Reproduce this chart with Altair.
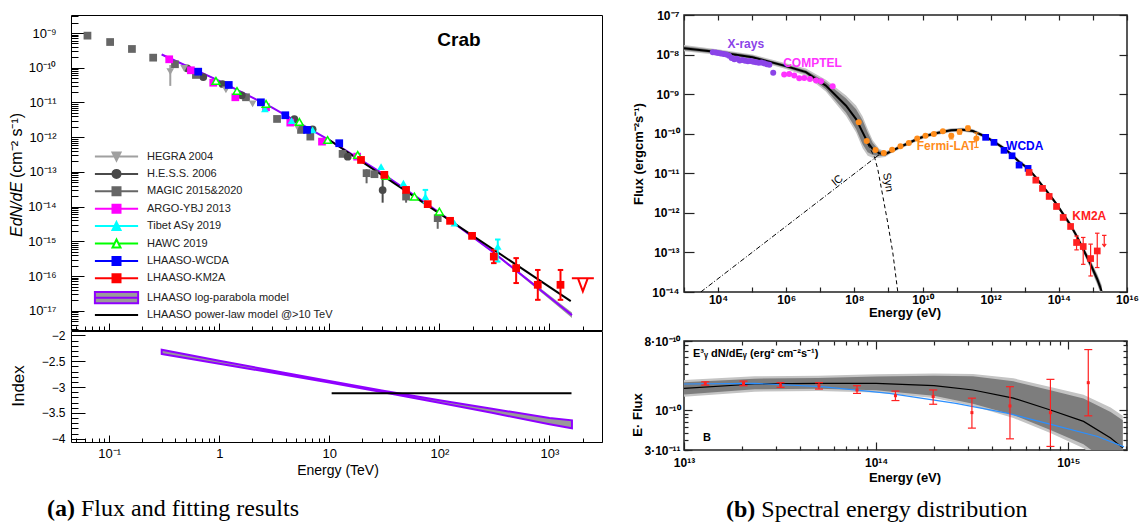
import altair as alt
import numpy as np
import pandas as pd

FA = "Liberation Sans"
FS = "Liberation Serif"
PURPLE = "#8f00ff"

# ======================= (a) Crab flux: E [TeV], E dN/dE [cm^-2 s^-1] =======================
MAGIC_E = [0.0635, 0.102, 0.161, 0.251, 0.396, 0.614, 1.75, 3.35, 5.53, 6.72, 13.2, 21.8, 25.7, 49.8, 96.5]
MAGIC_F = [8.4e-10, 5.5e-10, 3.47e-10, 1.95e-10, 1.26e-10, 6.2e-11, 1.41e-11, 3.35e-12, 1.62e-12, 1.04e-12,
           3.3e-13, 9.2e-14, 8.6e-14, 1.95e-14, 4.66e-15]
MAGIC_EB_E = [21.8, 49.8, 96.5]
MAGIC_EB_LO = [4.7e-14, 1.3e-14, 2.3e-15]
MAGIC_EB_HI = [1.2e-13, 2.5e-14, 8.0e-15]

HESS_E = [0.512, 0.716, 1.07, 1.6, 4.81, 7.05, 14.7, 30.5]
HESS_F = [9.6e-11, 5.4e-11, 3.4e-11, 1.6e-11, 3.29e-12, 1.69e-12, 2.75e-13, 3.0e-14]
HESS_EB_E = [30.5]
HESS_EB_LO = [1.3e-14]
HESS_EB_HI = [6.6e-14]

HEGRA_E = [0.359, 0.48, 1.15, 2.01, 5.09]
HEGRA_F = [7.7e-11, 9.6e-11, 2.29e-11, 9.1e-12, 2.0e-12]
HEGRA_EB_E = [0.359]
HEGRA_EB_LO = [3.0e-11]
HEGRA_EB_HI = [1.2e-10]

ARGO_E = [0.351, 0.553, 0.882, 1.4, 2.66, 4.42, 8.58, 17.9]
ARGO_F = [1.75e-10, 8.45e-11, 3.7e-11, 1.41e-11, 7.3e-12, 2.63e-12, 7.45e-13, 2.75e-13]

TIBET_E = [2.6, 4.54, 7.05, 29.5, 47.1, 74.6, 137, 339]
TIBET_F = [6.5e-12, 3.0e-12, 1.62e-12, 1.42e-13, 4.73e-14, 1.95e-14, 3.34e-15, 7.1e-16]
TIBET_EB_E = [74.6, 339]
TIBET_EB_LO = [1.3e-14, 2.62e-16]
TIBET_EB_HI = [3.03e-14, 1.13e-15]

HAWC_E = [0.933, 1.45, 2.66, 5.34, 9.65, 18.1, 32.8, 59.3, 100]
HAWC_F = [4.16e-11, 2.14e-11, 9.1e-12, 2.75e-12, 8.3e-13, 3.08e-13, 7.7e-14, 1.95e-14, 7.2e-15]

WCDA_E = [0.644, 1.22, 2.39, 3.98, 6.27, 12.3]
WCDA_F = [7.7e-11, 3.19e-11, 1.01e-11, 4.28e-12, 1.62e-12, 6.7e-13]

KM2A_E = [19.4, 31.6, 49.8, 78.3, 125, 198, 312, 498, 783, 1259]
KM2A_F = [2.21e-13, 8.2e-14, 3.03e-14, 1.18e-14, 3.9e-15, 1.44e-15, 3.65e-16, 1.69e-16, 5.6e-17, 5.6e-17]
KM2A_EB_E = [312, 498, 783, 1259]
KM2A_EB_LO = [2.36e-16, 6.3e-17, 2.07e-17, 2.07e-17]
KM2A_EB_HI = [5.7e-16, 3.29e-16, 1.5e-16, 1.5e-16]
KM2A_UL_E = [2010]
KM2A_UL_F = [8.7e-17]

LP_E = [0.3, 1, 3, 10, 30, 100, 300, 1000, 1600]
LP_F = [2.4e-10, 4.2e-11, 7.2e-12, 8.2e-13, 9.2e-14, 6.8e-15, 5.2e-16, 2.45e-17, 7.5e-18]
LP_LO = [2.3e-10, 4.05e-11, 7.0e-12, 8.05e-13, 9.0e-14, 6.55e-15, 4.9e-16, 2.15e-17, 6.2e-18]
LP_HI = [2.5e-10, 4.35e-11, 7.4e-12, 8.35e-13, 9.4e-14, 7.05e-15, 5.5e-16, 2.8e-17, 9.0e-18]
PL_E = [10, 1560]
PL_F = [8.3e-13, 1.9e-17]

IDX_E = [0.3, 1, 3, 10, 30, 100, 300, 1000, 1600]
IDX_HI = [-2.28, -2.49, -2.68, -2.885, -3.065, -3.255, -3.42, -3.60, -3.645]
IDX_LO = [-2.36, -2.55, -2.72, -2.915, -3.095, -3.305, -3.50, -3.72, -3.80]
PLI_E = [10.5, 1585]
PLI_V = [-3.12, -3.12]

LEG_NAMES = ["HEGRA 2004", "H.E.S.S. 2006", "MAGIC 2015&2020", "ARGO-YBJ 2013", "Tibet ASγ 2019",
             "HAWC 2019", "LHAASO-WCDA", "LHAASO-KM2A", "LHAASO log-parabola model",
             "LHAASO power-law model @>10 TeV"]

# ======================= (b) SED: E [eV], flux [erg cm^-2 s^-1] =======================
SED_E = [1e3, 1.07e4, 1.02e5, 9.8e5, 3.8e6, 1.45e7, 5.7e7, 1.12e8, 1.75e8, 2.46e8, 3.45e8, 5.4e8, 8.0e8,
         1.2e9, 2.25e9, 3.96e9, 6.97e9, 1.22e10, 2.15e10, 3.95e10, 6.97e10, 1.53e11, 3.0e11, 7.1e11,
         1.25e12, 2.46e12, 4.24e12, 6.8e12, 1.25e13, 2.11e13, 3.31e13, 5.19e13, 8.55e13, 1.34e14,
         2.21e14, 3.31e14, 5.19e14, 8.55e14, 1.34e15, 1.8e15]
SED_F = [1.45e-8, 1.15e-8, 8.6e-9, 5.1e-9, 3.6e-9, 1.64e-9, 5.1e-10, 2.35e-10, 1.08e-10, 6.05e-11, 4.1e-11,
         3.2e-11, 3.05e-11, 3.6e-11, 4.69e-11, 5.82e-11, 7.35e-11, 8.75e-11, 1.0e-10, 1.12e-10, 1.22e-10,
         1.26e-10, 1.17e-10, 8.4e-11, 6.27e-11, 4.27e-11, 2.89e-11, 1.95e-11, 1.33e-11, 7.87e-12, 4.83e-12,
         2.97e-12, 1.66e-12, 9.27e-13, 4.89e-13, 2.62e-13, 1.2e-13, 5.0e-14, 2.1e-14, 1.06e-14]
SED_W1 = [0.05, 0.04, 0.04, 0.04, 0.05, 0.09, 0.18, 0.25, 0.30, 0.25, 0.15, 0.07, 0.04, 0.03, 0.03, 0.03,
          0.03, 0.03, 0.03, 0.03, 0.03, 0.03, 0.03, 0.03, 0.03, 0.03, 0.03, 0.03, 0.03, 0.03, 0.03, 0.03,
          0.035, 0.04, 0.045, 0.05, 0.06, 0.08, 0.10, 0.12]
SED_W2 = [0.08, 0.07, 0.07, 0.07, 0.09, 0.15, 0.26, 0.34, 0.40, 0.34, 0.22, 0.11, 0.07, 0.05, 0.05, 0.05,
          0.05, 0.05, 0.05, 0.05, 0.05, 0.05, 0.05, 0.05, 0.05, 0.05, 0.05, 0.05, 0.05, 0.05, 0.05, 0.05,
          0.055, 0.06, 0.07, 0.08, 0.09, 0.11, 0.14, 0.16]
IC_E = [3.1e3, 6.0e8]
IC_F = [1.0e-14, 3.2e-11]
SYN_E = [2.46e8, 3.87e8, 4.85e8, 6.8e8, 9.5e8, 1.34e9, 1.88e9]
SYN_F = [5.5e-11, 2.6e-11, 1.28e-11, 2.7e-12, 5.7e-13, 9.9e-14, 1.0e-14]

XR_E = [7.0e3, 8.5e3, 1.0e4, 1.2e4, 1.45e4, 1.75e4, 2.1e4, 2.5e4, 3.0e4, 3.6e4, 4.3e4, 5.2e4, 6.2e4, 7.5e4,
        9.0e4, 1.08e5, 1.3e5, 1.56e5, 1.87e5, 2.25e5, 2.7e5, 3.2e5, 4.15e5]
XR_F = [1.15e-8, 1.13e-8, 1.10e-8, 1.06e-8, 1.03e-8, 1.0e-8, 9.3e-9, 8.2e-9, 7.6e-9, 7.8e-9, 7.05e-9, 7.3e-9,
        7.0e-9, 6.8e-9, 6.9e-9, 6.6e-9, 6.4e-9, 6.2e-9, 6.3e-9, 6.0e-9, 5.7e-9, 5.5e-9, 3.45e-9]
COMPTEL_E = [8.7e5, 1.22e6, 1.72e6, 2.41e6, 3.38e6, 4.97e6, 7.5e6, 1.05e7, 2.3e7]
COMPTEL_F = [3.12e-9, 3.25e-9, 2.94e-9, 2.53e-9, 2.57e-9, 2.43e-9, 2.2e-9, 2.12e-9, 1.58e-9]
FERMI_E = [1.34e8, 2.3e8, 4.15e8, 7.3e8, 1.28e9, 2.25e9, 3.96e9, 6.97e9, 1.22e10, 2.15e10, 3.95e10,
           6.97e10, 1.22e11, 2.15e11, 3.8e11]
FERMI_F = [1.95e-10, 6.5e-11, 3.86e-11, 3.24e-11, 3.94e-11, 4.8e-11, 5.8e-11, 7.6e-11, 8.9e-11, 9.8e-11,
           1.15e-10, 8.9e-11, 1.12e-10, 1.37e-10, 7.6e-11]
FERMI_EB_E = [6.97e10, 1.22e11, 2.15e11, 3.8e11]
FERMI_EB_LO = [7.4e-11, 9.8e-11, 1.2e-10, 4.5e-11]
FERMI_EB_HI = [9.8e-11, 1.27e-10, 1.55e-10, 1.05e-10]
WCDA_S_E = [7.1e11, 1.25e12, 2.46e12, 4.24e12, 6.8e12, 1.25e13]
WCDA_S_F = [8.1e-11, 6.05e-11, 3.8e-11, 2.77e-11, 1.61e-11, 1.33e-11]
KM2A_S_E = [1.34e13, 2.11e13, 3.31e13, 5.2e13, 8.55e13, 1.34e14, 2.21e14, 3.31e14, 5.19e14, 8.55e14, 1.34e15]
KM2A_S_F = [1.05e-11, 6.7e-12, 4.15e-12, 2.6e-12, 1.45e-12, 7.65e-13, 4.53e-13, 1.78e-13, 1.41e-13, 7.0e-14,
            1.09e-13]
KM2A_S_LO = [1.0e-11, 6.4e-12, 3.95e-12, 2.47e-12, 1.37e-12, 7.0e-13, 4.1e-13, 1.16e-13, 5.0e-14, 2.54e-14,
             4.15e-14]
KM2A_S_HI = [1.1e-11, 7.0e-12, 4.35e-12, 2.73e-12, 1.53e-12, 8.3e-13, 5.0e-13, 2.6e-13, 2.39e-13, 1.62e-13,
             3.06e-13]
KM2A_S_UL_E = [2.15e15]
KM2A_S_UL_F = [1.95e-13]

# (b) lower panel: E^3 dN/dE
BB_E = [1e13, 2.33e13, 5e13, 1e14, 2e14, 3.19e14, 5.18e14, 8.07e14, 1.2e15, 1.66e15, 1.92e15]
BB_F = [1.92e-10, 2.19e-10, 2.23e-10, 2.23e-10, 2.08e-10, 1.83e-10, 1.43e-10, 1.0e-10, 7.1e-11, 4.3e-11, 3.2e-11]
BB_W1 = [0.08, 0.07, 0.07, 0.09, 0.13, 0.18, 0.22, 0.26, 0.30, 0.34, 0.36]
BB_W2 = [0.11, 0.10, 0.10, 0.12, 0.16, 0.21, 0.26, 0.30, 0.35, 0.40, 0.42]
BL_E = [1e13, 2.33e13, 5.2e13, 1.17e14, 2.6e14, 4.8e14, 8.7e14, 1.42e15, 1.95e15]
BL_F = [2.19e-10, 2.23e-10, 2.02e-10, 1.65e-10, 1.22e-10, 9.1e-11, 6.2e-11, 4.5e-11, 3.3e-11]
BR_E = [1.29e13, 2.04e13, 3.18e13, 5.04e13, 7.95e13, 1.26e14, 1.98e14, 3.15e14, 4.97e14, 8.07e14, 1.27e15]
BR_F = [2.23e-10, 2.23e-10, 2.12e-10, 2.08e-10, 1.83e-10, 1.54e-10, 1.5e-10, 9.25e-11, 1.13e-10, 9.25e-11, 2.28e-10]
BR_LO = [2.12e-10, 2.08e-10, 1.98e-10, 1.88e-10, 1.65e-10, 1.33e-10, 1.19e-10, 5.8e-11, 4.2e-11, 3.34e-11, 8.4e-11]
BR_HI = [2.34e-10, 2.39e-10, 2.28e-10, 2.28e-10, 2.08e-10, 1.77e-10, 1.83e-10, 1.43e-10, 2.02e-10, 2.52e-10, 6.18e-10]

# ======================= helpers =======================
ONE = pd.DataFrame({"a": [0]})
MIN = [2, 3, 4, 5, 6, 7, 8, 9]


def lg(lo, hi, mults):
    out = []
    for d in range(int(np.floor(np.log10(lo))) - 1, int(np.ceil(np.log10(hi))) + 1):
        for m in mults:
            v = float(f"{m * 10.0 ** d:.6g}")
            if lo * 0.9999 <= v <= hi * 1.0001:
                out.append(v)
    return out


SUPA = "['⁰','¹','²','³','⁴','⁵','⁶','⁷','⁸','⁹']"


def supx(e):
    a = f"abs({e})"
    return f"(({e}) < 0 ? '⁻' : '') + ({a} >= 10 ? {SUPA}[floor({a} / 10)] : '') + {SUPA}[{a} % 10]"


P = "round(log(datum.value) / LN10)"
E_POW = f"'10' + {supx(P)}"
E_AX = f"{P} == 0 ? '1' : ({P} == 1 ? '10' : '10' + {supx(P)})"
E_EVEN = f"{P} % 2 == 0 ? '10' + {supx(P)} : ''"
FLR = "floor(log(datum.value) / LN10 + 0.000001)"
MNT = f"round(datum.value / pow(10, {FLR}))"
E_MAN = f"({MNT} == 1 ? '' : {MNT} + '·') + '10' + {supx(FLR)}"
E_NUM = "format(datum.value, '~g')"


def axis(orient, values, tick, expr=None, fs=12, fw="normal", pad=3, color="black", tw=1):
    kw = dict(orient=orient, values=values, tickSize=tick, offset=-tick, domain=False, grid=False,
              ticks=True, tickColor=color, tickWidth=tw, title=None, labelOverlap=False, labelFlush=False)
    if expr is None:
        kw["labels"] = False
    else:
        kw.update(labels=True, labelExpr=expr, labelFont=FA, labelFontSize=fs, labelFontWeight=fw,
                  labelPadding=pad, labelColor="black")
    return alt.Axis(**kw)


def axes(xs, ys, xm, ym, specs):
    d = pd.DataFrame({"x": [xm], "y": [ym]})
    out = []
    for ch, ax in specs:
        out.append(alt.Chart(d).mark_point(opacity=0).encode(
            x=alt.X("x:Q", scale=xs, axis=ax if ch == "x" else None),
            y=alt.Y("y:Q", scale=ys, axis=ax if ch == "y" else None)))
    return out


def enc(ch, xs, ys, yf="F"):
    return ch.encode(x=alt.X("E:Q", scale=xs, axis=None), y=alt.Y(f"{yf}:Q", scale=ys, axis=None))


def pts(E, F, xs, ys, shape, color, size=60, fill=None, sw=1.5):
    d = pd.DataFrame({"E": E, "F": F})
    if fill is None:
        m = alt.Chart(d).mark_point(shape=shape, filled=True, color=color, size=size, opacity=1, clip=True)
    else:
        m = alt.Chart(d).mark_point(shape=shape, filled=True, fill=fill, stroke=color, strokeWidth=sw,
                                    size=size, opacity=1, clip=True)
    return enc(m, xs, ys)


def sym(E, F, xs, ys, shape, color, size, sw=1.5):
    d = pd.DataFrame({"E": E, "F": F})
    return enc(alt.Chart(d).mark_point(shape=shape, filled=False, color=color, size=size, strokeWidth=sw,
                                       opacity=1, clip=True), xs, ys)


def errs(E, LO, HI, xs, ys, color, sw=1.5, cap=0):
    d = pd.DataFrame({"E": E, "lo": LO, "hi": HI})
    out = [alt.Chart(d).mark_rule(color=color, strokeWidth=sw, clip=True).encode(
        x=alt.X("E:Q", scale=xs, axis=None), y=alt.Y("lo:Q", scale=ys, axis=None), y2="hi:Q")]
    if cap:
        out.append(sym(E, LO, xs, ys, "stroke", color, cap, sw))
        out.append(sym(E, HI, xs, ys, "stroke", color, cap, sw))
    return out


def line(E, F, xs, ys, color, sw=1, dash=None):
    d = pd.DataFrame({"E": E, "F": F})
    kw = dict(color=color, strokeWidth=sw, clip=True)
    if dash:
        kw["strokeDash"] = dash
    return enc(alt.Chart(d).mark_line(**kw), xs, ys)


def band(E, LO, HI, xs, ys, color, stroke=None, sw=0):
    d = pd.DataFrame({"E": E, "lo": LO, "hi": HI})
    kw = dict(color=color, opacity=1, clip=True)
    if stroke:
        kw.update(stroke=stroke, strokeWidth=sw)
    return alt.Chart(d).mark_area(**kw).encode(
        x=alt.X("E:Q", scale=xs, axis=None), y=alt.Y("lo:Q", scale=ys, axis=None), y2="hi:Q")


def txt(text, x, y, size, font=FA, weight="normal", style="normal", angle=0, align="center",
        baseline="middle", color="black", opacity=1):
    kw = dict(text=text, fontSize=size, font=font, fontWeight=weight, fontStyle=style, align=align,
              baseline=baseline, color=color, opacity=opacity)
    if angle:
        kw["angle"] = angle
    return alt.Chart(ONE).mark_text(**kw).encode(x=alt.value(x), y=alt.value(y))


def dtxt(text, E, F, xs, ys, size, color, weight="bold", angle=0, align="center"):
    d = pd.DataFrame({"E": [E], "F": [F]})
    kw = dict(text=text, fontSize=size, font=FA, fontWeight=weight, color=color, align=align,
              baseline="middle")
    if angle:
        kw["angle"] = angle
    return enc(alt.Chart(d).mark_text(**kw), xs, ys)


# ======================= panel (a) top =======================
xa = alt.Scale(type="log", domain=[0.045, 3000], nice=False)
ya = alt.Scale(type="log", domain=[2.8e-18, 3.3e-9], nice=False)
yi = alt.Scale(type="linear", domain=[-4.064, -1.916], nice=False, zero=False)

XMAJ_A = [0.1, 1, 10, 100, 1000]
XMIN_A = lg(0.045, 3000, MIN)
YMAJ_A = lg(2.8e-18, 3.3e-9, [1])
YMIN_A = lg(2.8e-18, 3.3e-9, MIN)

L = 5.4
SQ = "M-1,-1H1V1H-1Z"
CIRC = "M1,0A1,1 0 1,1 -1,0A1,1 0 1,1 1,0Z"
TUP = "M0,-1L1,1H-1Z"
TDN = "M-1,-1H1L0,1Z"


def seg(a):
    return f"M-{L},0H-{a}M{a},0H{L}"


LEG_PATH = [seg(0.5) + TDN, seg(1) + CIRC, seg(1) + SQ, seg(1) + SQ, seg(0.5) + TUP, seg(0.5) + TUP,
            seg(1) + SQ, seg(1) + SQ, f"M-{L},-1.4H{L}V1.4H-{L}ZM-{L},0H{L}", f"M-{L},0H{L}"]
LEG_FILL = ["#a0a0a0", "#4a4a4a", "#666666", "#ff00ff", "#00ffff", "#ffffff", "#0000ff", "#ff0000",
            "#9a9a9a", "#000000"]
LEG_STROKE = ["#a0a0a0", "#4a4a4a", "#666666", "#ff00ff", "#00ffff", "#00ff00", "#0000ff", "#ff0000",
              PURPLE, "#000000"]

LEG = alt.Legend(orient="none", legendX=40, legendY=136, direction="vertical", title=None, padding=0,
                 symbolSize=64, symbolStrokeWidth=2, labelFont=FA, labelFontSize=11, labelColor="#222222",
                 labelOffset=25, rowPadding=0.4, labelLimit=400, symbolOffset=0)
leg_df = pd.DataFrame({"name": LEG_NAMES, "E": [1e-4] * len(LEG_NAMES), "F": [1e-12] * len(LEG_NAMES)})
legend_layer = alt.Chart(leg_df).mark_point(filled=True, opacity=1, size=64, clip=True).encode(
    x=alt.X("E:Q", scale=xa, axis=None),
    y=alt.Y("F:Q", scale=ya, axis=None),
    shape=alt.Shape("name:N", scale=alt.Scale(domain=LEG_NAMES, range=LEG_PATH), legend=LEG),
    fill=alt.Fill("name:N", scale=alt.Scale(domain=LEG_NAMES, range=LEG_FILL), legend=LEG),
    stroke=alt.Stroke("name:N", scale=alt.Scale(domain=LEG_NAMES, range=LEG_STROKE), legend=LEG),
)

a_top = alt.layer(
    *axes(xa, ya, 1.0, 1e-12, [
        ("y", axis("left", YMAJ_A, 13, E_POW, fs=13, pad=15)),
        ("y", axis("left", YMIN_A, 7)),
        ("x", axis("bottom", XMAJ_A, 7)),
        ("x", axis("bottom", XMIN_A, 4)),
    ]),
    band(LP_E, LP_LO, LP_HI, xa, ya, "#9a9a9a"),
    line(LP_E, LP_F, xa, ya, PURPLE, 2),
    line(PL_E, PL_F, xa, ya, "black", 2),
    *errs(MAGIC_EB_E, MAGIC_EB_LO, MAGIC_EB_HI, xa, ya, "#666666", 2),
    *errs(HESS_EB_E, HESS_EB_LO, HESS_EB_HI, xa, ya, "#4a4a4a", 2),
    *errs(HEGRA_EB_E, HEGRA_EB_LO, HEGRA_EB_HI, xa, ya, "#a0a0a0", 2),
    *errs(TIBET_EB_E, TIBET_EB_LO, TIBET_EB_HI, xa, ya, "#00ffff", 2, cap=30),
    *errs(KM2A_EB_E, KM2A_EB_LO, KM2A_EB_HI, xa, ya, "#ff0000", 2, cap=30),
    pts(MAGIC_E, MAGIC_F, xa, ya, "square", "#666666", 60),
    pts(HESS_E, HESS_F, xa, ya, "circle", "#4a4a4a", 60),
    pts(HEGRA_E, HEGRA_F, xa, ya, "triangle-down", "#a0a0a0", 60),
    pts(ARGO_E, ARGO_F, xa, ya, "square", "#ff00ff", 60),
    pts(TIBET_E, TIBET_F, xa, ya, "triangle-up", "#00ffff", 60),
    pts(HAWC_E, HAWC_F, xa, ya, "triangle-up", "#00ff00", 60, fill="white", sw=1.5),
    pts(WCDA_E, WCDA_F, xa, ya, "square", "#0000ff", 60),
    pts(KM2A_E, KM2A_F, xa, ya, "square", "#ff0000", 60),
    sym(KM2A_UL_E, KM2A_UL_F, xa, ya, "M-1,0H1M-0.45,0L0,1.2L0.45,0", "#ff0000", 484, 2),
    legend_layer,
    txt("Crab", 388, 25, 19, weight="bold"),
    txt("EdN/dE", -54, 222, 16, style="italic", angle=270, align="left"),
    txt("(cm⁻² s⁻¹)", -54, 163, 16, angle=270, align="left"),
    txt("10⁻⁷", -5, 1, 12, weight="bold", align="right", opacity=0),
).resolve_axis(x="independent", y="independent").properties(
    width=531, height=315, view=alt.ViewBackground(stroke="black", strokeWidth=1))

# ======================= panel (a) bottom =======================
IDX_MAJ = [-4, -3.5, -3, -2.5, -2]
IDX_MIN = [round(-4.0 + 0.1 * k, 2) for k in range(21) if k % 5 != 0]

a_bot = alt.layer(
    *axes(xa, yi, 1.0, -3.0, [
        ("y", axis("left", IDX_MAJ, 14, E_NUM, fs=12, pad=6)),
        ("y", axis("left", IDX_MIN, 7)),
        ("x", axis("bottom", XMAJ_A, 7, E_AX, fs=13, pad=5)),
        ("x", axis("bottom", XMIN_A, 4)),
    ]),
    band(IDX_E, IDX_LO, IDX_HI, xa, yi, "#999999", stroke=PURPLE, sw=2),
    line(PLI_E, PLI_V, xa, yi, "black", 2),
    txt("Index", -52, 55, 17, angle=270),
    txt("Energy (TeV)", 267, 140, 14),
    txt("(a)", -24, 178, 24, font=FS, weight="bold", align="left"),
    txt("Flux and fitting results", 10, 178, 24, font=FS, align="left"),
).resolve_axis(x="independent", y="independent").properties(
    width=531, height=111, view=alt.ViewBackground(stroke="black", strokeWidth=1))

# ======================= panel (b) top =======================
xb = alt.Scale(type="log", domain=[1e3, 1e16], nice=False)
yb = alt.Scale(type="log", domain=[1e-14, 1e-7], nice=False)
XMAJ_B = lg(1e3, 1e16, [1])
YMAJ_B = lg(1e-14, 1e-7, [1])
FR = "#222222"

sed_lo1 = [f * 10 ** (-w) for f, w in zip(SED_F, SED_W1)]
sed_hi1 = [f * 10 ** w for f, w in zip(SED_F, SED_W1)]
sed_lo2 = [f * 10 ** (-w) for f, w in zip(SED_F, SED_W2)]
sed_hi2 = [f * 10 ** w for f, w in zip(SED_F, SED_W2)]

b_top = alt.layer(
    *axes(xb, yb, 1e9, 1e-10, [
        ("y", axis("left", YMAJ_B, 10, E_POW, fs=12, fw="bold", pad=5, color=FR, tw=1.2)),
        ("y", axis("right", YMAJ_B, 8, color=FR, tw=1.2)),
        ("x", axis("bottom", XMAJ_B, 5, E_EVEN, fs=12, fw="bold", pad=2, color=FR, tw=1.2)),
        ("x", axis("top", XMAJ_B, 5, color=FR, tw=1.2)),
    ]),
    band(SED_E, sed_lo2, sed_hi2, xb, yb, "#c4c4c4"),
    band(SED_E, sed_lo1, sed_hi1, xb, yb, "#7d7d7d"),
    line(IC_E, IC_F, xb, yb, "black", 1, dash=[5, 2, 1, 2]),
    line(SYN_E, SYN_F, xb, yb, "black", 1, dash=[4, 3]),
    line(SED_E, SED_F, xb, yb, "black", 2),
    pts(XR_E, XR_F, xb, yb, "circle", "#8b44e8", 36),
    pts(COMPTEL_E, COMPTEL_F, xb, yb, "circle", "#ff33ff", 36),
    *errs(FERMI_EB_E, FERMI_EB_LO, FERMI_EB_HI, xb, yb, "#ff8c1a", 1.2, cap=20),
    pts(FERMI_E, FERMI_F, xb, yb, "circle", "#ff8c1a", 36),
    pts(WCDA_S_E, WCDA_S_F, xb, yb, "square", "#0000ff", 45),
    *errs(KM2A_S_E, KM2A_S_LO, KM2A_S_HI, xb, yb, "#ff2020", 1.2, cap=20),
    pts(KM2A_S_E, KM2A_S_F, xb, yb, "square", "#ff2020", 45),
    sym(KM2A_S_UL_E, KM2A_S_UL_F, xb, yb, "M-0.4,-1H0.4M0,-1V1M-0.35,0.55L0,1L0.35,0.55", "#ff2020", 121, 1.2),
    dtxt("X-rays", 6.5e4, 1.87e-8, xb, yb, 12, "#8b44e8"),
    dtxt("COMPTEL", 5.9e6, 6.17e-9, xb, yb, 12, "#ff33ff"),
    dtxt("Fermi-LAT", 4.98e10, 4.97e-11, xb, yb, 12, "#ff8c1a"),
    dtxt("WCDA", 1e13, 4.97e-11, xb, yb, 12, "#0000ff"),
    dtxt("KM2A", 7.8e14, 8.4e-13, xb, yb, 12, "#ff2020"),
    dtxt("IC", 3.2e7, 6.45e-12, xb, yb, 11, "black", weight="normal", angle=321),
    dtxt("Syn", 9.5e8, 5.9e-12, xb, yb, 11, "black", weight="normal", angle=80),
    txt("Flux (ergcm⁻²s⁻¹)", -45, 139, 13, weight="bold", angle=270),
    txt("Energy (eV)", 221, 298, 13, weight="bold"),
).resolve_axis(x="independent", y="independent").properties(
    width=443, height=277, view=alt.ViewBackground(stroke=FR, strokeWidth=1.5))

# ======================= panel (b) bottom =======================
xc = alt.Scale(type="log", domain=[1e13, 2.02e15], nice=False)
yc = alt.Scale(type="log", domain=[3e-11, 8e-10], nice=False)
XMAJ_C = [1e13, 1e14, 1e15]
XMIN_C = lg(1e13, 2.02e15, MIN)
YMIN_C = lg(3e-11, 8e-10, MIN)

bb_lo1 = [f * 10 ** (-w) for f, w in zip(BB_F, BB_W1)]
bb_hi1 = [f * 10 ** w for f, w in zip(BB_F, BB_W1)]
bb_lo2 = [f * 10 ** (-w) for f, w in zip(BB_F, BB_W2)]
bb_hi2 = [f * 10 ** w for f, w in zip(BB_F, BB_W2)]

b_bot = alt.layer(
    *axes(xc, yc, 1e14, 1e-10, [
        ("y", axis("left", [3e-11, 1e-10, 8e-10], 8, E_MAN, fs=12, fw="bold", pad=4, color=FR, tw=1.2)),
        ("y", axis("left", YMIN_C, 4, color=FR, tw=1.2)),
        ("y", axis("right", [1e-10], 8, color=FR, tw=1.2)),
        ("y", axis("right", YMIN_C, 4, color=FR, tw=1.2)),
        ("x", axis("bottom", XMAJ_C, 8, E_POW, fs=12, fw="bold", pad=7, color=FR, tw=1.2)),
        ("x", axis("bottom", XMIN_C, 4, color=FR, tw=1.2)),
        ("x", axis("top", XMAJ_C, 8, color=FR, tw=1.2)),
        ("x", axis("top", XMIN_C, 4, color=FR, tw=1.2)),
    ]),
    band(BB_E, bb_lo2, bb_hi2, xc, yc, "#c4c4c4"),
    band(BB_E, bb_lo1, bb_hi1, xc, yc, "#7d7d7d"),
    line(BB_E, BB_F, xc, yc, "black", 1.2),
    line(BL_E, BL_F, xc, yc, "#2b8fff", 1.2),
    *errs(BR_E, BR_LO, BR_HI, xc, yc, "#ff2020", 1.2, cap=64),
    pts(BR_E, BR_F, xc, yc, "square", "#ff2020", 9),
    txt("E³ᵧ dN/dEᵧ (erg² cm⁻²s⁻¹)", 9, 13, 11, weight="bold", align="left"),
    txt("B", 19, 97, 11, weight="bold", align="left"),
    txt("E· Flux", -46.5, 74, 13, weight="bold", angle=270),
    txt("Energy (eV)", 221, 137, 13, weight="bold"),
    txt("(b)", 42, 169, 24, font=FS, weight="bold", align="left"),
    txt("Spectral energy distribution", 77.3, 169, 24, font=FS, align="left"),
).resolve_axis(x="independent", y="independent").properties(
    width=443, height=109, view=alt.ViewBackground(stroke=FR, strokeWidth=1.5))

IND = dict(fill="independent", stroke="independent", shape="independent")
left = alt.vconcat(a_top, a_bot, spacing=-5).resolve_scale(**IND)
right = alt.vconcat(b_top, b_bot, spacing=13).resolve_scale(**IND)
chart = alt.hconcat(left, right, spacing=27).resolve_scale(**IND).properties(
    padding={"left": 0, "top": 0, "right": 0, "bottom": 0}
).configure(background="white").configure_view(stroke="black")

chart.save("out.html", embed_options={"renderer": "svg", "actions": False})
